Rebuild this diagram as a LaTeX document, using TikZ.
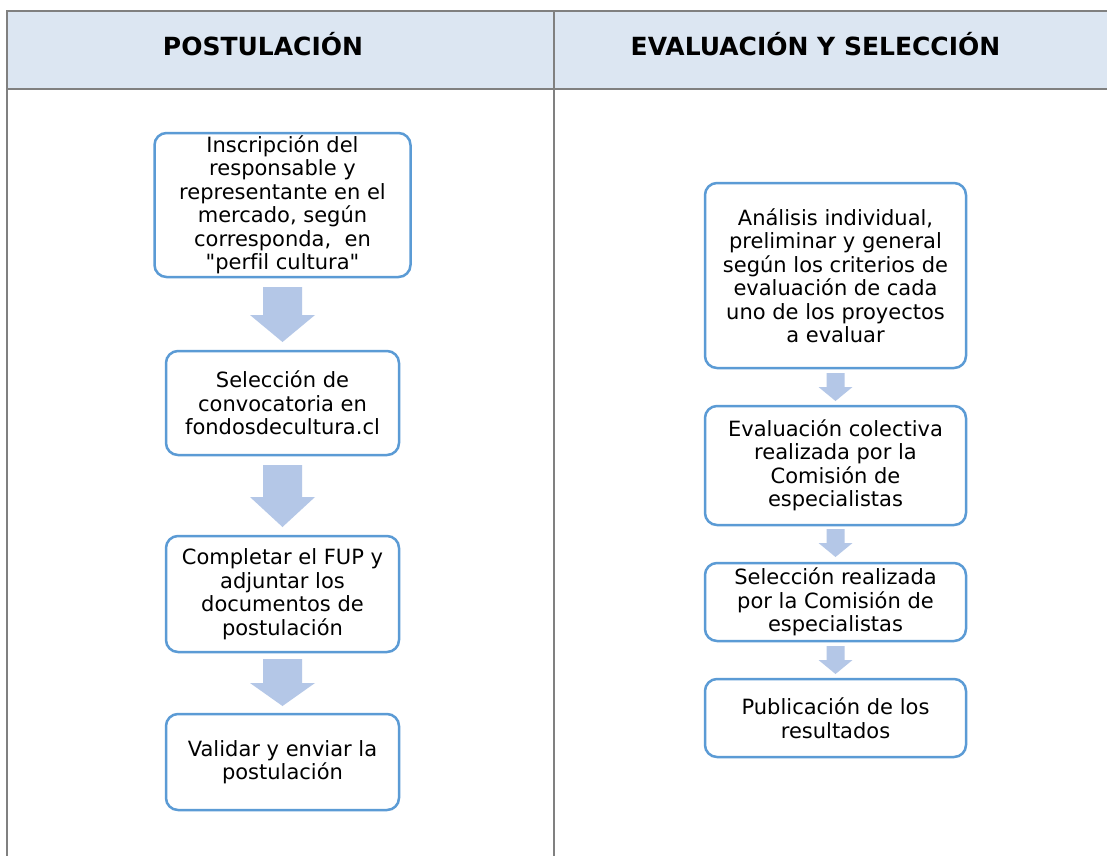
\documentclass[tikz,border=0pt]{standalone}
\usepackage{fontspec}
\setmainfont{DejaVu Sans}[Ligatures=NoCommon]
\usetikzlibrary{calc}
\definecolor{hdrfill}{HTML}{DCE6F2}
\definecolor{gridline}{HTML}{808080}
\definecolor{boxline}{HTML}{5B9BD5}
\definecolor{arrfill}{HTML}{B4C7E7}
\tikzset{
 stepbox/.style={draw=boxline, line width=2.5pt, rounded corners=12pt, fill=white, align=center, inner sep=0pt, outer sep=0pt, font=\fontsize{21}{23.5}\selectfont, text=black},
 hdr/.style={font=\fontsize{25}{30}\selectfont\bfseries, anchor=base},
 gridl/.style={draw=gridline, line width=2pt},
 blockarr/.style={fill=arrfill, draw=none}
}
% from, to, shaft half width, head half width, top gap, tip gap, head length
\newcommand\blockarrow[7]{%
 \fill[blockarr] ($(#1.south)+(-#3,#5)$) -- ($(#1.south)+(#3,#5)$) -- ($(#2.north)+(#3,-#6-#7)$) -- ($(#2.north)+(#4,-#6-#7)$) -- ($(#2.north)+(0,-#6)$) -- ($(#2.north)+(-#4,-#6-#7)$) -- ($(#2.north)+(-#3,-#6-#7)$) -- cycle;}
\begin{document}
\begin{tikzpicture}[x=1pt,y=-1pt]
\useasboundingbox (0,0) rectangle (1107,856);
\fill[white] (0,0) rectangle (1107,856);
\fill[hdrfill] (7,11) rectangle (1107,89);
\draw[gridl] (1107,11) -- (7,11) -- (7,856);
\draw[gridl] (7,89) -- (1107,89);
\draw[gridl] (554,11) -- (554,856);

\node[hdr] (h1) at (263,56) {POSTULACIÓN};
\node[hdr] (h2) at (815.5,56) {EVALUACIÓN Y SELECCIÓN};

% left column
\node[stepbox, minimum width=256pt, minimum height=144pt] (b1) at (282.5,205)
 {Inscripción del\\responsable y\\representante en el\\mercado, según\\corresponda,\ \ en\\\textquotedbl perfil cultura\textquotedbl};
\node[stepbox, minimum width=233pt, minimum height=104pt] (b2) at (282.5,403)
 {Selección de\\convocatoria en\\fondosdecultura.cl};
\node[stepbox, minimum width=233pt, minimum height=116pt] (b3) at (282.5,594)
 {Completar el FUP y\\adjuntar los\\documentos de\\postulación};
\node[stepbox, minimum width=233pt, minimum height=96pt] (b4) at (282.5,762)
 {Validar y enviar la\\postulación};

\blockarrow{b1}{b2}{19.5}{32.5}{10}{9}{27}
\blockarrow{b2}{b3}{19.5}{32.5}{10}{9}{30}
\blockarrow{b3}{b4}{19.5}{32.5}{7}{8}{23}

% right column
\node[stepbox, minimum width=261pt, minimum height=185pt] (r1) at (835.5,275.5)
 {Análisis individual,\\preliminar y general\\según los criterios de\\evaluación de cada\\uno de los proyectos\\a evaluar};
\node[stepbox, minimum width=261pt, minimum height=119pt] (r2) at (835.5,465.5)
 {Evaluación colectiva\\realizada por la\\Comisión de\\especialistas};
\node[stepbox, minimum width=261pt, minimum height=78pt] (r3) at (835.5,602)
 {Selección realizada\\por la Comisión de\\especialistas};
\node[stepbox, minimum width=261pt, minimum height=78pt] (r4) at (835.5,718)
 {Publicación de los\\resultados};

\blockarrow{r1}{r2}{9}{17}{5}{5}{14}
\blockarrow{r2}{r3}{9}{17}{4}{6}{14}
\blockarrow{r3}{r4}{9}{17}{5}{5}{14}
\end{tikzpicture}
\end{document}
